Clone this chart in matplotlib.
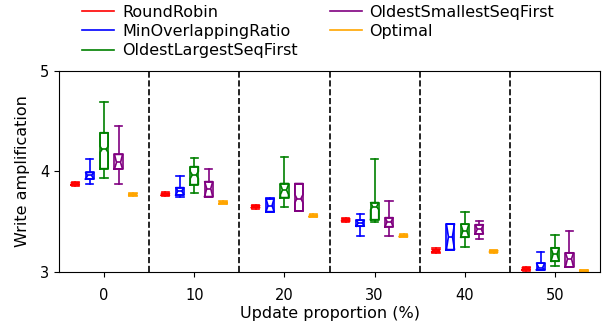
import matplotlib

matplotlib.use("Agg")
import matplotlib.pyplot as plt
from matplotlib.lines import Line2D
import numpy as np

# update proportion (%) per group
UPDATE_PCT = [0, 10, 20, 30, 40, 50]

METHODS = ["RoundRobin", "MinOverlappingRatio", "OldestLargestSeqFirst",
           "OldestSmallestSeqFirst", "Optimal"]
COLORS = ["red", "blue", "green", "purple", "orange"]

# per group: (whislo, q1, cilo, med, cihi, q3, whishi); None -> notch = box edge
ROUND_ROBIN = [
    (3.856, 3.866, None, 3.876, None, 3.886, 3.896),
    (3.753, 3.763, None, 3.773, None, 3.783, 3.793),
    (3.630, 3.640, None, 3.650, None, 3.660, 3.670),
    (3.497, 3.507, None, 3.517, None, 3.527, 3.537),
    (3.185, 3.198, None, 3.210, None, 3.222, 3.235),
    (3.012, 3.020, None, 3.030, None, 3.040, 3.048),
]
MIN_OVERLAP = [
    (3.876, 3.925, None, 3.960, None, 3.990, 4.120),
    (3.746, 3.766, None, 3.806, None, 3.839, 3.958),
    (3.595, 3.600, None, 3.660, None, 3.730, 3.740),
    (3.355, 3.455, None, 3.488, None, 3.515, 3.580),
    (3.222, 3.222, None, 3.350, None, 3.478, 3.478),
    (3.020, 3.020, None, 3.043, None, 3.087, 3.200),
]
OLDEST_LARGEST = [
    (3.940, 4.028, 4.190, 4.220, 4.250, 4.386, 4.695),
    (3.789, 3.869, 3.930, 3.965, 4.000, 4.048, 4.137),
    (3.650, 3.740, 3.770, 3.816, 3.870, 3.880, 4.147),
    (3.500, 3.520, 3.620, 3.650, 3.690, 3.690, 4.120),
    (3.250, 3.345, None, 3.410, None, 3.475, 3.594),
    (3.060, 3.106, None, 3.176, None, 3.240, 3.370),
]
OLDEST_SMALLEST = [
    (3.876, 4.025, None, 4.090, None, 4.170, 4.456),
    (3.746, 3.750, None, 3.830, None, 3.899, 4.025),
    (3.607, 3.607, 3.690, 3.730, 3.770, 3.880, 3.880),
    (3.355, 3.450, None, 3.500, None, 3.540, 3.706),
    (3.330, 3.378, None, 3.425, None, 3.470, 3.507),
    (3.045, 3.050, None, 3.130, None, 3.190, 3.405),
]
OPTIMAL = [
    (3.755, 3.762, None, 3.770, None, 3.778, 3.785),
    (3.672, 3.679, None, 3.687, None, 3.695, 3.702),
    (3.542, 3.549, None, 3.557, None, 3.565, 3.572),
    (3.343, 3.350, None, 3.358, None, 3.366, 3.373),
    (3.190, 3.197, None, 3.205, None, 3.213, 3.220),
    (3.003, 3.006, None, 3.010, None, 3.016, 3.022),
]
SERIES = [ROUND_ROBIN, MIN_OVERLAP, OLDEST_LARGEST, OLDEST_SMALLEST, OPTIMAL]


def to_stats(rows):
    out = []
    for lo, q1, cilo, med, cihi, q3, hi in rows:
        out.append(dict(whislo=lo, q1=q1, med=med, q3=q3, whishi=hi,
                        cilo=q1 if cilo is None else cilo,
                        cihi=q3 if cihi is None else cihi, fliers=[]))
    return out


fig = plt.figure(figsize=(6.05, 3.26), dpi=100)
ax = fig.add_axes([0.0975, 0.166, 0.8945, 0.616])

x = np.arange(len(UPDATE_PCT))
offsets = [-0.32, -0.16, 0.0, 0.16, 0.32]
w = 0.09
lw = 1.2

for k, (rows, c, off) in enumerate(zip(SERIES, COLORS, offsets)):
    st = to_stats(rows)
    pos = x + off
    line = dict(color=c, linewidth=lw)
    # notched outline (gives the bow-tie inside each box)
    ax.bxp(st, positions=pos, widths=w, capwidths=w * 0.9, shownotches=True,
           showfliers=False, manage_ticks=False,
           boxprops=line, whiskerprops=line, capprops=line, medianprops=line)
    if k in (0, 4):
        continue  # the near-constant ones read as little "x" marks
    # plain rectangle on top
    ax.bxp(st, positions=pos, widths=w, shownotches=False, showcaps=False,
           showfliers=False, manage_ticks=False, boxprops=line,
           whiskerprops=dict(visible=False), medianprops=dict(visible=False))

for b in x[:-1] + 0.5:
    ax.axvline(b, color="black", ls="--", lw=1.2)

ax.set_xlim(-0.5, len(UPDATE_PCT) - 0.5)
ax.set_ylim(3, 5)
ax.set_yticks([3, 4, 5])
ax.set_xticks(x)
ax.set_xticklabels([str(v) for v in UPDATE_PCT])
ax.tick_params(labelsize=10.5)
ax.tick_params(axis="x", pad=8)
ax.set_xlabel("Update proportion (%)", fontsize=11.5, labelpad=2)
ax.set_ylabel("Write amplification", fontsize=11.5, labelpad=7)

handles = [Line2D([], [], color=c, lw=1.2) for c in COLORS]
fig.legend(handles, METHODS, loc="upper left", bbox_to_anchor=(0.112, 1.03),
           ncol=2, frameon=False, fontsize=11.5, labelspacing=0.27,
           columnspacing=2.0, handletextpad=0.5)

fig.savefig("out.png", dpi=100)
